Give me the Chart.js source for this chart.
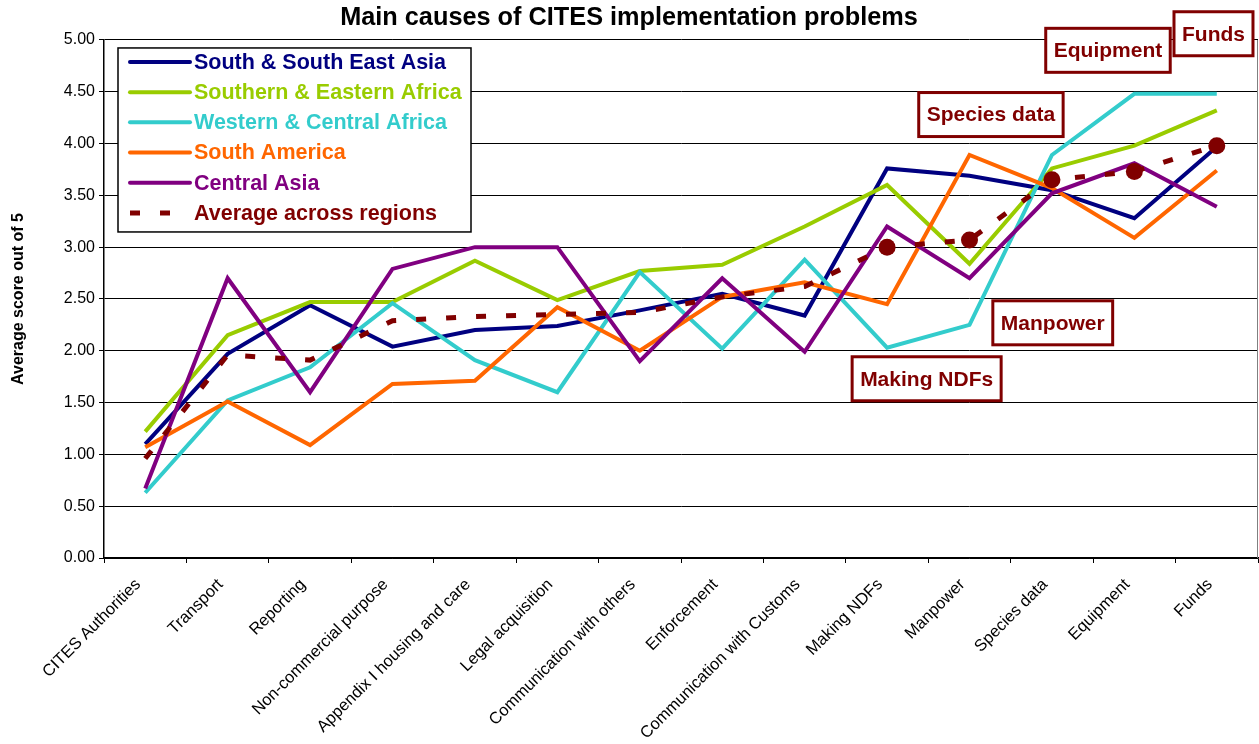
<!DOCTYPE html>
<html>
<head>
<meta charset="utf-8">
<script src="https://cdn.jsdelivr.net/npm/chart.js@4.4.1/dist/chart.umd.min.js"></script>
<style>
  html, body { margin: 0; padding: 0; background: #fff; }
  #wrap { width: 1259px; height: 744px; }
</style>
</head>
<body>
<div id="wrap"><canvas id="myChart" width="1259" height="744"></canvas></div>
<script>
// Categories (x axis)
const categories = [
  'CITES Authorities', 'Transport', 'Reporting', 'Non-commercial purpose',
  'Appendix I housing and care', 'Legal acquisition', 'Communication with others',
  'Enforcement', 'Communication with Customs', 'Making NDFs', 'Manpower',
  'Species data', 'Equipment', 'Funds',
];

// Scores per region
const southAsia      = [1.10, 1.97, 2.44, 2.04, 2.20, 2.24, 2.39, 2.55, 2.34, 3.76, 3.69, 3.55, 3.28, 3.97];
const southernAfrica = [1.22, 2.15, 2.47, 2.47, 2.87, 2.49, 2.77, 2.83, 3.20, 3.60, 2.84, 3.76, 3.98, 4.32];
const westernAfrica  = [0.63, 1.52, 1.84, 2.46, 1.91, 1.60, 2.76, 2.02, 2.88, 2.03, 2.25, 3.89, 4.48, 4.48];
const southAmerica   = [1.07, 1.51, 1.09, 1.68, 1.71, 2.42, 2.00, 2.52, 2.66, 2.45, 3.89, 3.57, 3.09, 3.74];
const centralAsia    = [0.67, 2.70, 1.60, 2.79, 3.00, 3.00, 1.90, 2.70, 1.99, 3.20, 2.70, 3.52, 3.81, 3.39];
const averageScores  = [0.96, 1.96, 1.91, 2.29, 2.33, 2.35, 2.37, 2.52, 2.62, 3.00, 3.07, 3.65, 3.73, 3.98];

// Y axis ticks
const yTicks = [0, 0.5, 1, 1.5, 2, 2.5, 3, 3.5, 4, 4.5, 5];

// Categories that get a marker + callout on the average line
const highlighted = ['Making NDFs', 'Manpower', 'Species data', 'Equipment', 'Funds'];

const FONT = "'Liberation Sans', Arial, sans-serif";
const DARK_RED = '#800000';

// where each callout box sits (offset in category steps, value on y)
const calloutPlacement = {
  'Making NDFs':  { dx: 0.48,  val: 1.73 },
  'Manpower':     { dx: 1.01,  val: 2.27 },
  'Species data': { dx: -0.74, val: 4.28 },
  'Equipment':    { dx: -0.32, val: 4.90 },
  'Funds':        { dx: -0.04, val: 5.06 },
};

function line(label, data, color, order) {
  return {
    label: label,
    data: data,
    borderColor: color,
    backgroundColor: color,
    borderWidth: 4,
    pointRadius: 0,
    tension: 0,
    order: order,
  };
}

const avgPointRadius = categories.map(c => highlighted.includes(c) ? 8.5 : 0);

const datasets = [
  line('South & South East Asia', southAsia, '#000080', 5),
  line('Southern & Eastern Africa', southernAfrica, '#99CC00', 4),
  line('Western & Central Africa', westernAfrica, '#33CCCC', 3),
  line('South America', southAmerica, '#FF6600', 2),
  line('Central Asia', centralAsia, '#800080', 1),
  {
    label: 'Average across regions',
    data: averageScores,
    borderColor: DARK_RED,
    backgroundColor: DARK_RED,
    borderWidth: 5,
    borderDash: [10, 20],
    borderCapStyle: 'butt',
    pointRadius: avgPointRadius,
    pointBorderWidth: 0,
    tension: 0,
    order: 0,
  },
];

// right edge of the plot frame
const plotFrame = {
  id: 'plotFrame',
  beforeDatasetsDraw(chart) {
    const { ctx, chartArea: a } = chart;
    ctx.save();
    ctx.strokeStyle = '#808080';
    ctx.lineWidth = 1;
    ctx.beginPath();
    ctx.moveTo(a.right - 0.5, a.top);
    ctx.lineTo(a.right - 0.5, a.bottom);
    ctx.stroke();
    ctx.restore();
  },
};

// legend drawn inside the plot, top-left
const insideLegend = {
  id: 'insideLegend',
  afterDraw(chart) {
    const { ctx, chartArea: a } = chart;
    const x0 = a.left + 14, y0 = a.top + 8;
    const w = 353, h = 184, rowH = 30.2;
    ctx.save();
    ctx.fillStyle = '#fff';
    ctx.fillRect(x0, y0, w, h);
    ctx.strokeStyle = '#000';
    ctx.lineWidth = 1.5;
    ctx.strokeRect(x0, y0, w, h);
    ctx.font = 'bold 21.5px ' + FONT;
    ctx.textBaseline = 'middle';
    chart.data.datasets.forEach((ds, i) => {
      const y = y0 + 14 + i * rowH;
      ctx.strokeStyle = ds.borderColor;
      ctx.lineWidth = ds.borderWidth;
      ctx.lineCap = ds.borderDash ? 'butt' : 'round';
      ctx.setLineDash(ds.borderDash || []);
      ctx.beginPath();
      ctx.moveTo(x0 + 12, y);
      ctx.lineTo(x0 + 72, y);
      ctx.stroke();
      ctx.setLineDash([]);
      ctx.fillStyle = ds.borderColor;
      ctx.fillText(ds.label, x0 + 76, y + 1);
    });
    ctx.restore();
  },
};

// boxed callouts naming the highlighted categories
const callouts = {
  id: 'callouts',
  afterDraw(chart) {
    const { ctx } = chart;
    const xs = chart.scales.x, ys = chart.scales.y;
    ctx.save();
    ctx.font = 'bold 21px ' + FONT;
    ctx.textAlign = 'center';
    ctx.textBaseline = 'middle';
    highlighted.forEach(name => {
      const p = calloutPlacement[name];
      const idx = categories.indexOf(name);
      const cx = xs.getPixelForValue(idx + p.dx);
      const cy = ys.getPixelForValue(p.val);
      const tw = ctx.measureText(name).width;
      const bw = tw + 16, bh = 44;
      ctx.fillStyle = '#fff';
      ctx.fillRect(cx - bw / 2, cy - bh / 2, bw, bh);
      ctx.strokeStyle = DARK_RED;
      ctx.lineWidth = 3;
      ctx.strokeRect(cx - bw / 2, cy - bh / 2, bw, bh);
      ctx.fillStyle = DARK_RED;
      ctx.fillText(name, cx, cy + 1);
    });
    ctx.restore();
  },
};

const ctx = document.getElementById('myChart').getContext('2d');

const chart = new Chart(ctx, {
  type: 'line',
  data: { labels: categories, datasets: datasets },
  options: {
    responsive: false,
    animation: false,
    layout: { autoPadding: false, padding: { left: 0, right: 1, top: 0, bottom: 0 } },
    plugins: {
      legend: { display: false },
      tooltip: { enabled: false },
      title: {
        display: true,
        text: 'Main causes of CITES implementation problems',
        color: '#000',
        font: { family: FONT, size: 25.3, weight: 'bold' },
        padding: { top: 3, bottom: 6.6 },
      },
    },
    scales: {
      x: {
        type: 'category',
        offset: true,
        grid: {
          offset: true,
          drawOnChartArea: false,
          drawTicks: true,
          tickLength: 5,
          color: '#000',
        },
        border: { color: '#000', width: 1.5 },
        ticks: {
          autoSkip: false,
          minRotation: 45,
          maxRotation: 45,
          color: '#000',
          padding: 12,
          labelOffset: -7,
          font: { family: FONT, size: 16.5 },
        },
        afterFit(s) {
          s.height = 186;
          s.paddingLeft = 0;
          s.paddingRight = 0;
        },
      },
      y: {
        min: 0,
        max: 5,
        afterBuildTicks(s) { s.ticks = yTicks.map(v => ({ value: v })); },
        grid: { color: '#000', lineWidth: 1, drawTicks: true, tickLength: 5 },
        border: { color: '#000', width: 1.5 },
        ticks: {
          color: '#000',
          padding: 4,
          font: { family: FONT, size: 16 },
          callback: v => Number(v).toFixed(2),
        },
        title: {
          display: true,
          text: 'Average score out of 5',
          color: '#000',
          font: { family: FONT, size: 16, weight: 'bold' },
          padding: { top: 8.5, bottom: 0 },
        },
        afterFit(s) { s.width = 104; },
      },
    },
  },
  plugins: [plotFrame, insideLegend, callouts],
});
</script>
</body>
</html>
